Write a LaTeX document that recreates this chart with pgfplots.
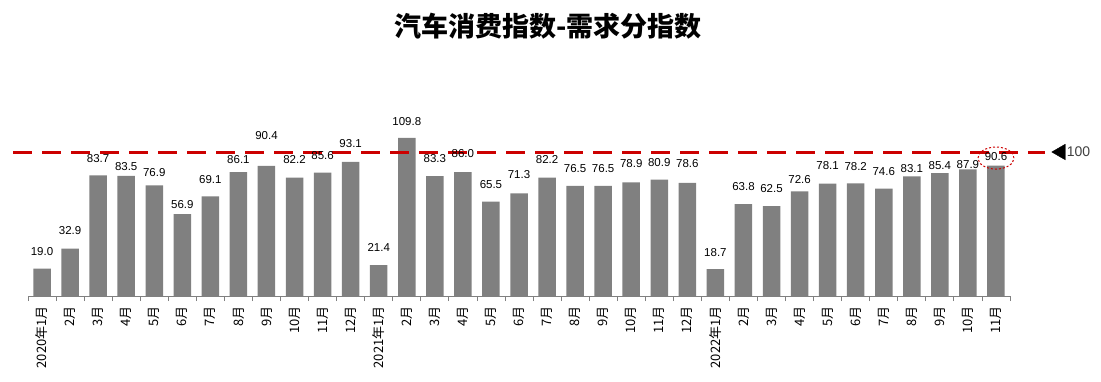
\documentclass[border=0pt]{standalone}
\usepackage{pgfplots}
\pgfplotsset{compat=1.18}
\usepackage{pgfplotstable}
\usepackage{fontspec}
\setmainfont{Liberation Sans}
\newfontfamily\cjk{Noto Sans CJK SC}
\definecolor{barg}{RGB}{128,128,128}
\definecolor{lred}{RGB}{204,0,0}
\pgfplotstableread{
x y off
0 19.0 17.6
1 32.9 18.3
2 83.7 17.3
3 83.5 9.3
4 76.9 12.3
5 56.9 9.3
6 69.1 17.3
7 86.1 12.7
8 90.4 30
9 82.2 18.3
10 85.6 17
11 93.1 18.3
12 21.4 17.7
13 109.8 16.7
14 83.3 17.3
15 86.0 18.3
16 65.5 17
17 71.3 18.7
18 82.2 18.3
19 76.5 17
20 76.5 17
21 78.9 19
22 80.9 17
23 78.6 19
24 18.7 16.7
25 63.8 17.3
26 62.5 17.7
27 72.6 11.7
28 78.1 17.7
29 78.2 16.7
30 74.6 17
31 83.1 7.7
32 85.4 7.7
33 87.9 5.3
34 90.6 9.3
}\data
\begin{document}
\begin{tikzpicture}
\useasboundingbox (-28pt,-85pt) rectangle (1073pt,296pt);
\begin{axis}[
  at={(0,0)}, anchor=south west,
  scale only axis, width=982pt, height=172.8pt,
  xmin=-0.5, xmax=34.5, ymin=0, ymax=120,
  axis x line*=bottom, axis y line*=left,
  y axis line style={draw=none}, ytick=\empty,
  x axis line style={draw=barg, line width=0.8pt},
  xtick={0,...,34},
  xticklabels={2020年1月,2月,3月,4月,5月,6月,7月,8月,9月,10月,11月,12月,2021年1月,2月,3月,4月,5月,6月,7月,8月,9月,10月,11月,12月,2022年1月,2月,3月,4月,5月,6月,7月,8月,9月,10月,11月},
  major tick length=0pt,
  minor xtick={-0.5,0.5,...,34.5},
  minor tick length=5pt,
  tick align=outside,
  tick style={draw=barg, line width=0.8pt},
  xticklabel style={font=\cjk\fontsize{13}{13}\selectfont, yshift=-10pt, rotate=90, anchor=east, inner sep=0pt},
  clip=false,
]
\addplot[ybar, bar width=17.5pt, fill=barg, draw=none,
  visualization depends on={\thisrow{off}\as\loff},
  nodes near coords={\pgfmathprintnumber[fixed,fixed zerofill,precision=1,assume math mode=true]{\pgfplotspointmeta}},
  every node near coord/.append style={anchor=center, yshift=\loff pt, font=\fontsize{11.5}{12}\selectfont, text=black, inner sep=0pt}]
  table[x=x,y=y]{\data};
\addplot[lred, line width=3pt, dash pattern=on 19pt off 10pt] coordinates {(-1.03,100) (35.75,100)};
\addplot[only marks, mark=triangle*, mark size=9pt, mark options={rotate=90, fill=black, draw=black}] coordinates {(36.31,100)};
\draw[lred, line width=1pt, dash pattern=on 2pt off 2pt] (axis cs:34,95.8) ellipse [x radius=18pt, y radius=11pt];
\node[anchor=west, inner sep=0pt, text=darkgray, font=\fontsize{14}{14}\selectfont] at (axis cs:36.52,100) {100};
\end{axis}
\node[font=\cjk\bfseries\fontsize{27}{27}\selectfont] at (520pt,270pt) {汽车消费指数-需求分指数};
\end{tikzpicture}
\end{document}
